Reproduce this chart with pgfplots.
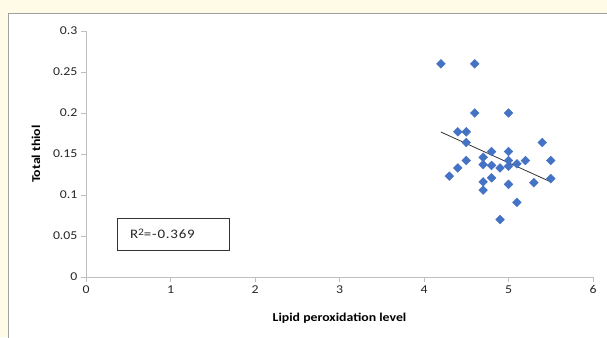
\documentclass[border=0pt]{standalone}
\usepackage{pgfplots}
\pgfplotsset{compat=1.18}
\usepackage{fontspec}
\setmainfont{Carlito}[FakeStretch=1.15]
\newfontfamily\rfont{Carlito}[FakeStretch=1.15, LetterSpace=6]
\definecolor{cream}{HTML}{FFFBE6}
\definecolor{panelborder}{HTML}{A0A0A0}
\definecolor{axisgray}{HTML}{BFBFBF}
\definecolor{excelblue}{HTML}{4472C4}
\definecolor{labelgray}{HTML}{262626}
\begin{document}
\begin{tikzpicture}[x=1pt,y=1pt]
\useasboundingbox (0,0) rectangle (607,337);
\clip (0,0) rectangle (607,337);
\fill[cream] (0,0) rectangle (607,337);
\filldraw[fill=white, draw=panelborder, line width=1pt] (8.5,-10) rectangle (640,323);
\begin{axis}[
  at={(86pt,60pt)}, anchor=south west,
  scale only axis, width=507pt, height=246pt,
  xmin=0, xmax=6, ymin=0, ymax=0.3,
  axis x line=bottom, axis y line=left,
  axis line style={-, axisgray, line width=0.8pt},
  xtick={0,1,...,6},
  ytick={0,0.05,0.1,0.15,0.2,0.25,0.3},
  tick style={axisgray, line width=0.8pt},
  tick align=outside,
  major tick length=5pt,
  /pgf/number format/assume math mode=true,
  yticklabel style={/pgf/number format/fixed, /pgf/number format/precision=2, font=\fontsize{12}{14}\selectfont, text=labelgray},
  xticklabel style={font=\fontsize{12}{14}\selectfont, text=labelgray},
  xlabel={Lipid peroxidation level},
  ylabel={Total thiol},
  label style={font=\bfseries\fontsize{12}{14}\selectfont, text=black},
  xlabel style={at={(axis description cs:0.5,-0.167)}, anchor=center},
  ylabel style={at={(axis description cs:-0.0986,0.5)}, anchor=center, rotate=0},
  clip=false,
]
\addplot[only marks, mark=square*, mark size=3.1pt, mark options={rotate=45, fill=excelblue, draw=excelblue}] coordinates {
(4.2,0.26) (4.6,0.26) (4.6,0.2) (5.0,0.2)
(4.4,0.177) (4.5,0.177) (4.5,0.164) (5.4,0.164)
(4.8,0.153) (5.0,0.153) (4.7,0.146) (4.5,0.142)
(5.0,0.142) (5.2,0.142) (5.5,0.142) (4.7,0.137)
(4.8,0.136) (4.9,0.133) (5.0,0.135) (5.1,0.138)
(4.4,0.133) (4.3,0.123) (4.8,0.121) (4.7,0.116)
(5.0,0.113) (5.3,0.115) (5.5,0.120) (4.7,0.106)
(5.1,0.091) (4.9,0.070)
};
\addplot[black!80, line width=0.8pt] coordinates {(4.2,0.1768) (5.5,0.1160)};
\node[draw=black!80, line width=0.8pt, fill=white, text width=86pt, inner xsep=13pt, align=left, minimum height=32pt, anchor=center, font=\rfont\fontsize{13}{15}\selectfont, text=black!85]
  at (axis cs:1.03,0.0524) {R\raisebox{0.55ex}{\fontsize{10}{11}\selectfont 2}=-0.369};
\end{axis}
\end{tikzpicture}
\end{document}
